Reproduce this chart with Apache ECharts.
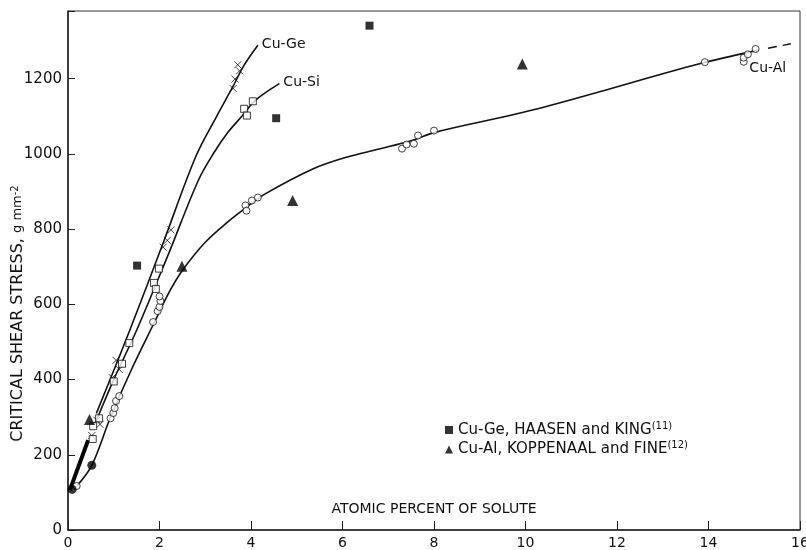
<!DOCTYPE html>
<html lang="en">
<head>
    <meta charset="UTF-8">
    <title>Critical shear stress vs solute</title>
    <script src="https://cdn.jsdelivr.net/npm/echarts@6/dist/echarts.min.js"></script>
</head>
<body style="margin:0;background:#fff;">
<div id="main" style="width: 806px;height:550px;"></div>
<script type="text/javascript">
    // measured points, [atomic % solute, stress g/mm2]
    var cuGePoints = [[0.52, 251], [0.63, 292], [0.70, 281], [0.97, 405], [1.05, 451], [1.12, 427],
        [2.08, 752], [2.17, 770], [2.25, 798], [3.61, 1174], [3.65, 1199], [3.75, 1221], [3.71, 1237]];
    var cuSiPoints = [[0.54, 242], [0.55, 276], [0.68, 297], [1.0, 395], [1.18, 442], [1.34, 497],
        [1.88, 657], [1.92, 641], [1.99, 695], [3.85, 1120], [3.91, 1102], [4.04, 1140]];
    var cuAlPoints = [[0.19, 117], [0.93, 297], [0.99, 311], [1.02, 324], [1.05, 343], [1.12, 356],
        [1.86, 553], [1.96, 582], [2.0, 593], [2.02, 609], [2.0, 621], [3.88, 863], [3.90, 849],
        [4.02, 876], [4.15, 884], [7.30, 1014], [7.40, 1025], [7.56, 1027], [7.65, 1049], [8.0, 1062],
        [13.92, 1244], [14.77, 1245], [14.77, 1256], [14.86, 1265], [15.03, 1279]];
    var filledCircles = [[0.09, 108], [0.52, 172]];
    var haasenKing = [[1.51, 703], [4.55, 1095], [6.59, 1341]];
    var koppenaalFine = [[0.47, 294], [2.49, 701], [4.91, 876], [9.93, 1239]];
    var lowSegment = [[0.04, 106], [0.44, 239]];

    // hand drawn curves
    var cuGeCurve = [[0.62, 310], [1.35, 531], [2.1, 770], [2.8, 995], [3.25, 1100], [3.6, 1178],
        [3.85, 1236], [4.15, 1289]];
    var cuSiCurve = [[0.6, 285], [1.0, 400], [1.5, 531], [2.2, 735], [2.85, 930], [3.2, 1005],
        [3.5, 1058], [3.8, 1100], [4.1, 1143], [4.62, 1187]];
    var cuAlCurve = [[0.2, 118], [0.52, 172], [0.92, 297], [1.4, 430], [1.9, 555], [2.2, 630],
        [2.5, 690], [3.0, 765], [3.5, 820], [3.9, 858], [4.3, 893], [5.35, 960], [6.08, 991],
        [6.8, 1013], [7.5, 1035], [8.04, 1058], [9.86, 1108], [11.17, 1150], [13.78, 1239], [15.09, 1276]];
    var cuAlTail = [[15.3, 1281], [15.8, 1293]];

    var xTicks = [0, 2, 4, 6, 8, 10, 12, 14, 16];
    var yTicks = [0, 200, 400, 600, 800, 1000, 1200];

    var font = 'DejaVu Sans';
    var crossPath = 'path://M0,0L10,10M10,0L0,10';

    var myChart = echarts.init(document.getElementById('main'));

    function curve(data, label, offset) {
        return {
            type: 'line',
            data: data,
            showSymbol: false,
            smooth: 0.35,
            silent: true,
            lineStyle: {color: '#111', width: 1.6},
            endLabel: {
                show: !!label,
                formatter: label || '',
                color: '#111',
                fontFamily: font,
                fontSize: 14,
                distance: 4,
                offset: offset || [0, 0]
            },
            z: 2
        };
    }

    var option = {
        animation: false,
        backgroundColor: '#fff',
        grid: {
            left: 68, right: 6, top: 11, bottom: 20,
            outerBoundsMode: 'none',
            containLabel: false,
            show: true, borderColor: '#333', borderWidth: 1
        },
        xAxis: {
            type: 'value',
            min: 0, max: 16, interval: 2,
            name: 'ATOMIC PERCENT OF SOLUTE',
            nameLocation: 'middle',
            nameGap: -28,
            nameMoveOverlap: false,
            nameTextStyle: {color: '#111', fontFamily: font, fontSize: 14},
            axisLine: {lineStyle: {color: '#222', width: 1.5}},
            axisTick: {inside: true, length: 9, lineStyle: {color: '#222'}},
            axisLabel: {
                color: '#111', fontFamily: font, fontSize: 14, margin: 6,
                formatter: function (v) { return xTicks.indexOf(v) >= 0 ? String(v) : ''; }
            },
            splitLine: {show: false}
        },
        yAxis: {
            type: 'value',
            min: 0, max: 1380, interval: 200,
            name: '{t|CRITICAL SHEAR STRESS, }{u|g mm}{s|-2}',
            nameLocation: 'middle',
            nameGap: 42,
            nameMoveOverlap: false,
            nameTextStyle: {
                color: '#111', fontFamily: font,
                padding: [0, 86, 0, 0],
                rich: {
                    t: {fontSize: 16, fontFamily: font, color: '#111'},
                    u: {fontSize: 13, fontFamily: font, color: '#111'},
                    s: {fontSize: 10, fontFamily: font, color: '#111', verticalAlign: 'top', padding: [0, 0, 6, 0]}
                }
            },
            axisLine: {lineStyle: {color: '#222', width: 1.5}},
            axisTick: {inside: true, length: 7, lineStyle: {color: '#222'}},
            axisLabel: {
                color: '#111', fontFamily: font, fontSize: 15, margin: 6,
                formatter: function (v) { return yTicks.indexOf(v) >= 0 ? String(v) : ''; }
            },
            splitLine: {show: false}
        },
        legend: {
            orient: 'vertical',
            left: 440,
            top: 416,
            itemGap: 3,
            itemWidth: 8,
            itemHeight: 8,
            selectedMode: false,
            data: [
                {name: 'Cu-Ge, HAASEN and KING', icon: 'rect'},
                {name: 'Cu-Al, KOPPENAAL and FINE', icon: 'triangle'}
            ],
            formatter: function (name) {
                var ref = name.indexOf('HAASEN') >= 0 ? '(11)' : '(12)';
                return '{n|' + name + '}{s|' + ref + '}';
            },
            textStyle: {
                rich: {
                    n: {fontSize: 15, fontFamily: font, color: '#111'},
                    s: {fontSize: 10, fontFamily: font, color: '#111', verticalAlign: 'top', padding: [0, 0, 8, 0]}
                }
            }
        },
        series: [
            curve(cuGeCurve, 'Cu-Ge', [0, -1]),
            curve(cuSiCurve, 'Cu-Si', [0, -1]),
            curve(cuAlCurve, 'Cu-Al', [-13, 18]),
            {
                type: 'line', data: cuAlTail, showSymbol: false, silent: true,
                lineStyle: {color: '#111', width: 1.4, type: [9, 6]}
            },
            {
                type: 'line', data: lowSegment, showSymbol: false, silent: true,
                lineStyle: {color: '#000', width: 4}
            },
            {
                name: 'Cu-Ge points', type: 'scatter', data: cuGePoints,
                symbol: crossPath, symbolSize: 7,
                itemStyle: {color: 'none', borderColor: '#111', borderWidth: 1}, z: 3
            },
            {
                name: 'Cu-Si points', type: 'scatter', data: cuSiPoints,
                symbol: 'rect', symbolSize: 7,
                itemStyle: {color: '#fff', borderColor: '#111', borderWidth: 1}, z: 3
            },
            {
                name: 'Cu-Al points', type: 'scatter', data: cuAlPoints,
                symbol: 'circle', symbolSize: 7,
                itemStyle: {color: '#fff', borderColor: '#111', borderWidth: 1}, z: 3
            },
            {
                name: 'filled', type: 'scatter', data: filledCircles,
                symbol: 'circle', symbolSize: 9,
                itemStyle: {color: '#000'}, z: 3
            },
            {
                name: 'Cu-Ge, HAASEN and KING', type: 'scatter', data: haasenKing,
                symbol: 'rect', symbolSize: 8,
                itemStyle: {color: '#000'}, z: 3
            },
            {
                name: 'Cu-Al, KOPPENAAL and FINE', type: 'scatter', data: koppenaalFine,
                symbol: 'triangle', symbolSize: 11,
                itemStyle: {color: '#000'}, z: 3
            }
        ]
    };
    myChart.setOption(option);
</script>
</body>
</html>
